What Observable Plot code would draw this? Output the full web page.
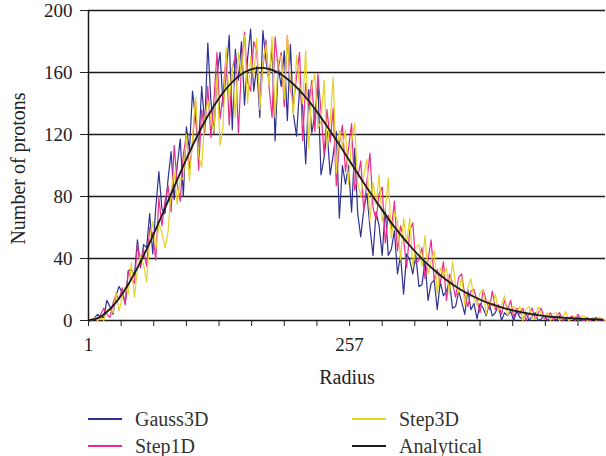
<!DOCTYPE html>
<html><head><meta charset="utf-8">
<script src="https://cdn.jsdelivr.net/npm/d3@7"></script>
<script src="https://cdn.jsdelivr.net/npm/@observablehq/plot@0.6"></script>
<style>
body{margin:0;background:#fff;font-family:"Liberation Serif",serif;}
#legend{position:relative;height:61px;width:606px;font-size:20px;color:#333;}
.item{position:absolute;display:flex;align-items:center;height:24px;line-height:24px;}
.sw{width:34px;height:2px;margin-right:13px;}
</style></head><body><div id="chart"></div><div id="legend"></div>
<script>
// x positions (radius) for the simulated series: every 3rd radius bin
const radiusNoisy = d3.range(1, 509, 3);
// x positions for analytical curve samples
const radiusAnalytical = d3.range(1, 506, 9);

const gauss3D = [0,0,2,4,2,2,13,9,4,16,
22,18,11,32,33,29,52,34,49,47,
69,43,73,96,72,69,91,109,78,100,
117,80,125,110,148,130,112,151,126,179,
142,121,159,173,138,159,184,123,175,155,
180,139,169,188,148,164,131,187,168,155,
177,116,164,151,174,129,178,133,119,150,
138,101,149,121,133,152,94,105,122,94,
107,122,66,100,88,100,70,111,69,54,
72,82,60,42,70,61,42,72,42,46,
58,30,42,17,43,39,30,42,22,23,
38,13,24,26,7,25,16,19,25,8,
9,19,12,4,20,7,11,1,11,8,
3,11,3,5,10,0,5,3,6,0,
6,2,1,5,0,3,5,0,1,3,
0,2,2,0,3,0,1,0,2,0,
2,0,0,1,0,1,0,0,0,0];

const step1D = [0,1,1,0,4,8,4,2,11,17,
14,21,10,32,27,24,49,35,46,35,
60,56,39,79,61,77,87,70,113,88,
77,107,120,98,114,142,97,136,121,151,
118,142,173,130,146,172,126,162,171,121,
164,186,154,148,180,174,140,163,181,151,
131,183,162,173,138,184,149,140,157,173,
116,153,139,155,122,159,135,107,136,115,
137,87,114,126,96,111,127,84,92,103,
70,90,108,73,65,82,86,50,68,59,
77,45,61,53,34,58,63,37,39,47,
27,39,52,26,33,24,38,13,30,24,
15,28,30,16,9,19,20,13,5,20,
13,7,19,7,10,4,13,7,13,2,
8,4,8,0,4,8,1,5,8,1,
2,5,0,3,5,0,2,1,3,0,
4,1,0,2,0,1,2,0,1,0];

const step3D = [0,0,2,0,2,0,7,7,5,18,
6,15,22,17,37,15,33,42,36,25,
53,64,46,62,57,47,57,83,96,75,
92,91,120,90,118,144,106,99,131,142,
131,122,159,113,126,176,142,164,131,173,
157,184,140,170,157,182,136,166,178,152,
183,131,167,171,143,184,153,133,171,152,
140,174,111,151,159,124,128,155,112,129,
157,95,123,112,123,88,115,127,89,80,
94,104,64,89,75,94,64,71,92,53,
70,64,39,66,50,66,35,47,49,35,
55,30,38,45,17,34,28,34,17,38,
23,18,28,10,21,27,14,10,18,20,
4,13,9,17,6,10,16,3,8,9,
6,9,0,7,9,2,1,9,4,2,
5,0,4,5,0,2,6,0,1,3,
0,2,3,0,1,2,0,2,1,0];

const analytical = [0,1.5,5.5,11.7,20.0,30.2,41.8,54.5,67.9,81.7,95.3,108.5,120.8,131.9,141.5,
149.5,155.7,160.1,162.5,163.0,161.7,158.7,154.2,148.5,141.6,133.8,125.2,116.4,107.2,97.9,
88.7,79.8,71.2,63.0,55.4,48.4,41.9,36.0,30.8,26.1,22.0,18.4,15.3,12.6,10.4,
8.4,6.8,5.5,4.4,3.5,2.7,2.1,1.7,1.3,1.0,0.8,0.6];

const yTicks = [0, 40, 80, 120, 160, 200];
const xMinorTicks = [1, 33, 65, 97, 129, 161, 193, 225, 257, 289, 321, 353, 385, 417, 449, 481];
const xLabelTicks = [1, 257];

const seriesNames = ["Gauss3D", "Step1D", "Step3D", "Analytical"];
const seriesColors = ["#2e3192", "#ec2b8c", "#e3d327", "#1a1a1a"];

const noisyRows = radiusNoisy.map((r, i) => ({r, gauss: gauss3D[i], s1: step1D[i], s3: step3D[i]}));
const anaRows = radiusAnalytical.map((r, i) => ({r, v: analytical[i]}));

const chart = Plot.plot({
  width: 606, height: 395,
  marginLeft: 88, marginRight: 1, marginTop: 10, marginBottom: 75,
  x: {domain: [1, 508]},
  y: {domain: [0, 200]},
  style: {fontFamily: "'Liberation Serif', serif", fontSize: "19px", color: "#222", background: "#fff", overflow: "visible"},
  marks: [
    Plot.ruleY(yTicks, {stroke: "#1a1a1a", strokeWidth: 1.5}),
    Plot.line(noisyRows, {x: "r", y: "gauss", stroke: seriesColors[0], strokeWidth: 1.2}),
    Plot.line(noisyRows, {x: "r", y: "s1", stroke: seriesColors[1], strokeWidth: 1.2}),
    Plot.line(noisyRows, {x: "r", y: "s3", stroke: seriesColors[2], strokeWidth: 1.2}),
    Plot.line(anaRows, {x: "r", y: "v", stroke: seriesColors[3], strokeWidth: 1.8, curve: "natural"}),
    Plot.ruleX([1], {stroke: "#1a1a1a", strokeWidth: 1.5}),
    Plot.axisY(yTicks, {tickSize: 8, tickPadding: 8, fontSize: 19, label: null}),
    Plot.text(["Number of protons"], {frameAnchor: "left", textAnchor: "middle", lineAnchor: "middle", rotate: -90, dx: -70, dy: 3, fontSize: 20, fill: "#222"}),
    Plot.axisX(xMinorTicks, {tickSize: 6, tickFormat: () => "", label: null}),
    Plot.axisX(xLabelTicks, {tickSize: 0, tickPadding: 17, fontSize: 19, label: null}),
    Plot.text(["Radius"], {frameAnchor: "bottom", lineAnchor: "middle", dy: 57, fontSize: 20, fill: "#222"})
  ]
});
document.getElementById("chart").appendChild(chart);

const legend = document.getElementById("legend");
const pos = [[88, 9], [88, 36], [352, 9], [352, 36]];
seriesNames.forEach((name, k) => {
  const d = document.createElement("div");
  d.className = "item";
  d.style.left = pos[k][0] + "px";
  d.style.top = (pos[k][1] + 3) + "px";
  const sw = document.createElement("span");
  sw.className = "sw";
  sw.style.background = seriesColors[k];
  const t = document.createElement("span");
  t.textContent = name;
  d.appendChild(sw); d.appendChild(t);
  legend.appendChild(d);
});
</script>
</body></html>
